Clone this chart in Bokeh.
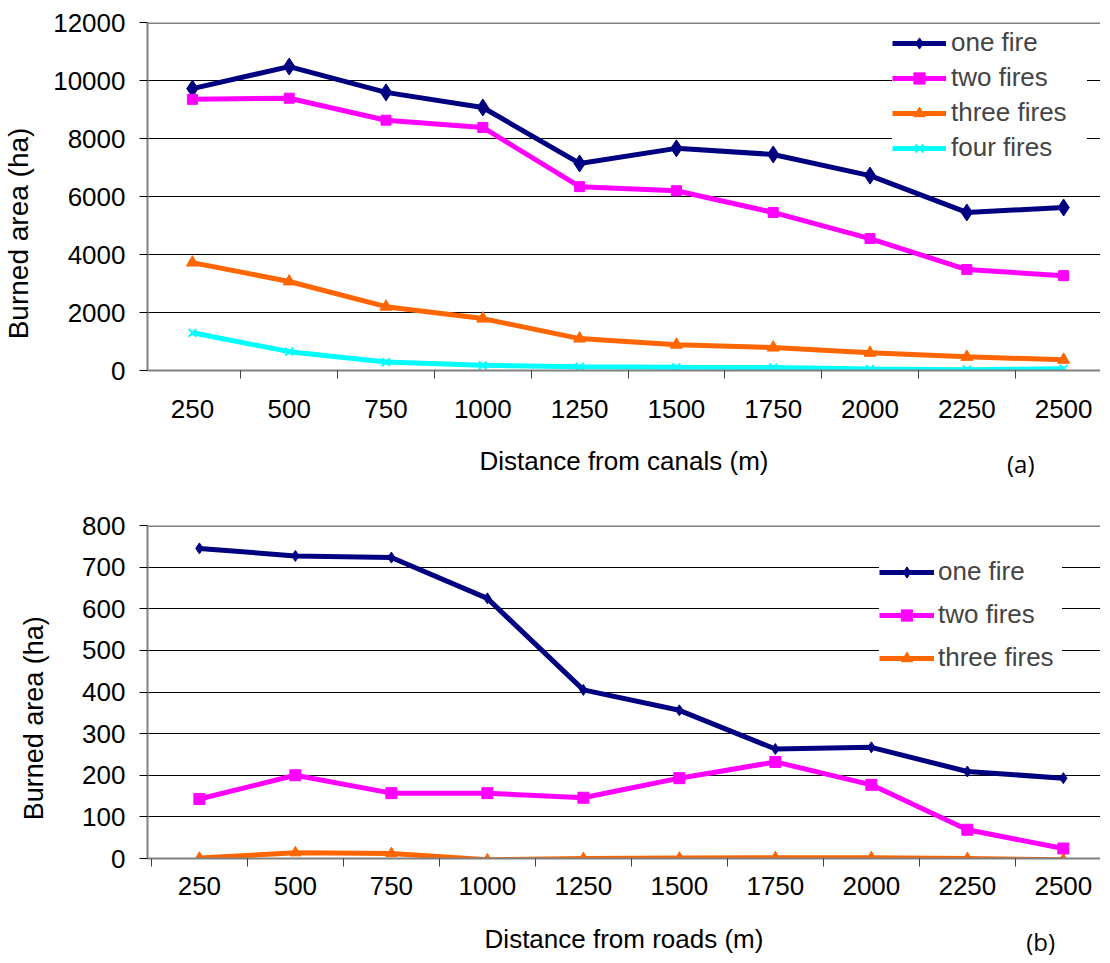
from bokeh.plotting import figure
from bokeh.models import (Range1d, FixedTicker, Legend, LegendItem, Span, LinearAxis)
from bokeh.layouts import column
from bokeh.embed import file_html
from bokeh.resources import INLINE

distances = ["250", "500", "750", "1000", "1250", "1500", "1750", "2000", "2250", "2500"]

# (a) Distance from canals
canal_one = [9720, 10480, 9590, 9070, 7140, 7660, 7450, 6720, 5450, 5620]
canal_two = [9350, 9390, 8630, 8380, 6340, 6200, 5450, 4550, 3480, 3270]
canal_three = [3720, 3070, 2200, 1790, 1100, 890, 790, 610, 470, 370]
canal_four = [1300, 650, 290, 180, 130, 110, 100, 50, 30, 60]

# (b) Distance from roads
road_one = [745, 727, 723, 625, 405, 356, 263, 267, 209, 193]
road_two = [143, 200, 157, 157, 146, 193, 232, 177, 69, 24]
road_three = [1, 14, 12, -3, 0, 1, 2, 2, 0, -3]

FONT = "Liberation Sans"
NAVY = "#000080"
MAGENTA = "#FF00FF"
ORANGE = "#FF6600"
CYAN = "#00FFFF"

xs = [i + 0.5 for i in range(len(distances))]


def style(p, yticks, tick_std, label_std):
    p.xgrid.visible = False
    p.ygrid.grid_line_color = "black"
    p.ygrid.grid_line_width = 1
    p.ygrid.ticker = FixedTicker(ticks=yticks)
    p.outline_line_color = None
    p.background_fill_color = "white"
    p.border_fill_color = "white"

    xa = p.xaxis[0]
    xa.ticker = FixedTicker(ticks=xs, minor_ticks=list(range(len(distances) + 1)))
    xa.major_label_overrides = {x: d for x, d in zip(xs, distances)}
    xa.major_tick_out = 0
    xa.major_tick_in = 0
    xa.minor_tick_out = 8
    xa.minor_tick_in = 0
    xa.minor_tick_line_color = "#404040"
    xa.minor_tick_line_width = 1
    xa.axis_line_color = "#808080"
    xa.axis_line_width = 2
    xa.major_label_text_font = FONT
    xa.major_label_text_font_size = "26px"
    xa.major_label_text_color = "black"
    xa.major_label_standoff = tick_std
    xa.axis_label_text_font = FONT
    xa.axis_label_text_font_size = "26px"
    xa.axis_label_text_font_style = "normal"
    xa.axis_label_text_color = "black"
    xa.axis_label_standoff = label_std

    ya = p.yaxis[0]
    ya.ticker = FixedTicker(ticks=yticks)
    ya.major_tick_out = 8
    ya.major_tick_in = 0
    ya.major_tick_line_color = "black"
    ya.minor_tick_out = 0
    ya.minor_tick_in = 0
    ya.axis_line_color = "#808080"
    ya.axis_line_width = 2
    ya.major_label_text_font = FONT
    ya.major_label_text_font_size = "26px"
    ya.major_label_text_color = "black"
    ya.major_label_standoff = 14


def text_axis(pos, text, standoff, font, size, orientation="horizontal"):
    # an axis without line or tick marks whose single tick label places a text
    return LinearAxis(ticker=FixedTicker(ticks=[pos], minor_ticks=[]),
                      major_label_overrides={pos: text},
                      axis_line_color=None, major_tick_out=0, major_tick_in=0,
                      minor_tick_out=0, minor_tick_in=0,
                      major_label_standoff=standoff, major_label_text_font=font,
                      major_label_text_font_size=size,
                      major_label_text_color="black",
                      major_label_orientation=orientation)


def add_series(p, ys, color, marker, msize, label):
    lr = p.line(xs, ys, line_color=color, line_width=5)
    sr = p.scatter(xs, ys, marker=marker, size=msize, fill_color=color,
                   line_color=color, line_width=2 if marker == "x" else 1)
    return LegendItem(label=label, renderers=[lr, sr])


# ---------- top chart ----------
p1 = figure(width=1100, height=486, output_backend="svg", toolbar_location=None,
            x_range=Range1d(0.036, 9.881), y_range=Range1d(0, 12000),
            min_border_left=145, min_border_right=0, min_border_top=22,
            min_border_bottom=116,
            x_axis_label="Distance from canals (m)")
style(p1, list(range(0, 12001, 2000)), 21, 25)
p1.add_layout(text_axis(4724, "Burned area (ha)", 16, FONT, "28px", "vertical"), "left")
p1.add_layout(text_axis(9.057, "(a)", -32, "Open Sans", "24px"), "below")
p1.add_layout(Span(location=12000, dimension="width", line_color="#808080", line_width=3))

items1 = [
    add_series(p1, canal_one, NAVY, "diamond", 17, "one fire"),
    add_series(p1, canal_two, MAGENTA, "square", 10, "two fires"),
    add_series(p1, canal_three, ORANGE, "triangle", 12, "three fires"),
    add_series(p1, canal_four, CYAN, "x", 11, "four fires"),
]
leg1 = Legend(items=items1, location=(745, 207), label_text_font=FONT,
              label_text_font_size="26px", label_height=28, glyph_height=28,
              glyph_width=54, label_standoff=5, label_width=136, spacing=4,
              padding=4, margin=0,
              border_line_color=None, background_fill_color="white",
              background_fill_alpha=1.0)
p1.add_layout(leg1, "center")

# ---------- bottom chart ----------
p2 = figure(width=1100, height=474, output_backend="svg", toolbar_location=None,
            x_range=Range1d(-0.0405, 9.887), y_range=Range1d(0, 800),
            min_border_left=145, min_border_right=0, min_border_top=39,
            min_border_bottom=101,
            x_axis_label="Distance from roads (m)")
style(p2, list(range(0, 801, 100)), 10, 26)
p2.add_layout(text_axis(337, "Burned area (ha)", 30, FONT, "27px", "vertical"), "left")
p2.add_layout(text_axis(9.263, "(b)", -32, "Open Sans", "24px"), "below")
p2.add_layout(Span(location=800, dimension="width", line_color="#808080", line_width=3))

items2 = [
    add_series(p2, road_one, NAVY, "diamond", 11, "one fire"),
    add_series(p2, road_two, MAGENTA, "square", 11, "two fires"),
    add_series(p2, road_three, ORANGE, "triangle", 11, "three fires"),
]
leg2 = Legend(items=items2, location=(732, 185), label_text_font=FONT,
              label_text_font_size="26px", label_height=28, glyph_height=28,
              glyph_width=55, label_standoff=4, label_width=124, spacing=12,
              padding=4, margin=0,
              border_line_color=None, background_fill_color="white",
              background_fill_alpha=1.0)
p2.add_layout(leg2, "center")

layout = column(p1, p2, spacing=0)
open("out.html", "w").write(file_html(layout, INLINE))
